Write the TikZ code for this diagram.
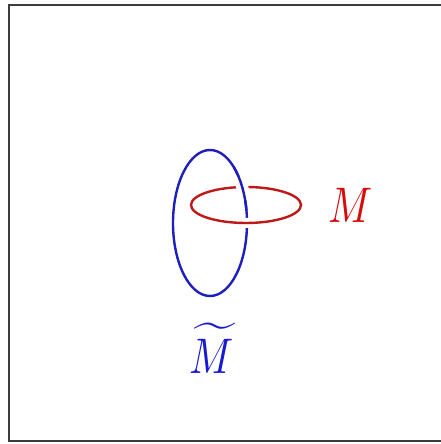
\documentclass[tikz,border=0pt]{standalone}
\usepackage{amsmath}
\definecolor{knotblue}{RGB}{30,30,190}
\definecolor{knotred}{RGB}{190,25,25}
\definecolor{labelred}{RGB}{215,10,10}
\definecolor{labelblue}{RGB}{25,25,210}
\definecolor{framegray}{RGB}{60,60,60}
\tikzset{
  frameline/.style={draw=framegray, line width=2pt},
  bluecurve/.style={draw=knotblue, line width=2.4pt},
  redcurve/.style={draw=knotred, line width=2.4pt},
  gapline/.style={draw=white, line width=10pt},
  biglabel/.style={inner sep=0pt, xscale=4.1, yscale=5}
}
\begin{document}
\begin{tikzpicture}[x=1pt,y=1pt]
\useasboundingbox (0,0) rectangle (441,444);
\draw[frameline] (9,3) rectangle (443,439);
\coordinate (bc) at (210,221);
\coordinate (rc) at (246,239);
% blue full ellipse
\draw[bluecurve] (bc) ellipse [x radius=37, y radius=73];
% red over blue at lower crossing: gap in blue
\draw[gapline] ([shift={(rc)}]258:55 and 18) arc[start angle=258, end angle=280, x radius=55, y radius=18];
\draw[redcurve] (rc) ellipse [x radius=55, y radius=18];
% blue over red at upper crossing: gap in red
\draw[gapline, line width=12pt] ([shift={(bc)}]18:37 and 73) arc[start angle=18, end angle=40, x radius=37, y radius=73];
\draw[bluecurve] ([shift={(bc)}]10:37 and 73) arc[start angle=10, end angle=50, x radius=37, y radius=73];
% labels
\node[biglabel, text=labelred] (m) at (351,239) {$M$};
\node[biglabel, text=labelblue] (mt) at (212,96) {$\widetilde{M}$};
\end{tikzpicture}
\end{document}
